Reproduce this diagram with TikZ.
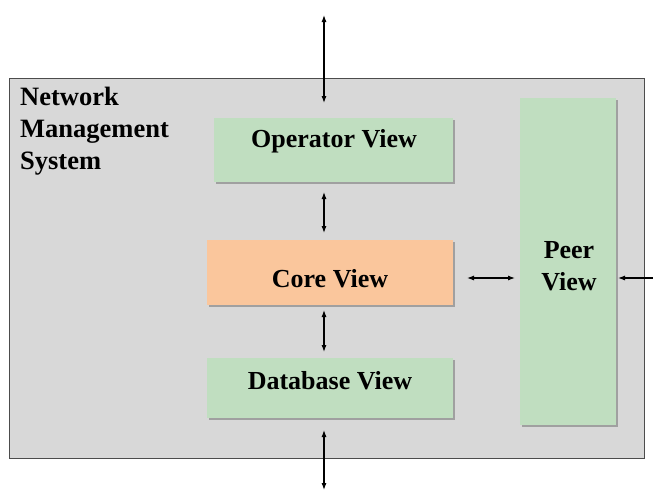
\documentclass[tikz,border=0pt]{standalone}
\usepackage{fontspec}
\setmainfont{Liberation Serif}
\usetikzlibrary{arrows.meta}
\definecolor{panelgray}{RGB}{216,216,216}
\definecolor{viewgreen}{RGB}{192,222,192}
\definecolor{vieworange}{RGB}{250,198,156}
\definecolor{edgegray}{RGB}{160,160,160}
\tikzset{
  view/.style={draw=none, inner sep=0pt, font=\fontsize{26}{32}\selectfont\bfseries,
    align=center, text=black},
  link/.style={{Latex[length=7pt,width=5pt]}-{Latex[length=7pt,width=5pt]}, line width=1.1pt},
  inlink/.style={-{Latex[length=7pt,width=5pt]}, line width=1.1pt},
}
\begin{document}
\begin{tikzpicture}[x=1pt,y=-1pt]
  \useasboundingbox (0,0) rectangle (653,493);
  % system panel
  \draw[fill=panelgray, draw=black!70, line width=0.8pt] (9,78) rectangle (644,458);
  \node[anchor=north west, align=left, font=\fontsize{26.5}{32}\selectfont\bfseries, inner sep=0pt]
    (nms) at (20,87) {Network\\Management\\System};
  % view boxes with a thin drop shadow
  \foreach \x/\y/\X/\Y/\c in {214/118/453/182/viewgreen, 207/240/453/305/vieworange,
                              207/358/453/418/viewgreen, 520/98/616/425/viewgreen}{
    \fill[edgegray] (\x+1.5,\y+1.5) rectangle (\X+1.5,\Y+1.5);
    \fill[\c] (\x,\y) rectangle (\X,\Y);
  }
  \node[view] (optext) at (334,141) {Operator View};
  \node[view] (coretext) at (330,279) {Core View};
  \node[view] (dbtext) at (330,381) {Database View};
  \node[view] (peertext) at (569,266) {Peer\\View};
  % connector ends
  \coordinate (top) at (324,15);
  \coordinate (opin) at (324,103);
  \coordinate (opout) at (324,192);
  \coordinate (corein) at (324,233);
  \coordinate (coreout) at (324,310);
  \coordinate (dbin) at (324,352);
  \coordinate (dbout) at (324,430);
  \coordinate (bottom) at (324,490);
  \coordinate (coreside) at (467,278);
  \coordinate (peerin) at (515,278);
  \coordinate (peerright) at (618,278);
  \coordinate (right) at (660,278);
  % connectors
  \draw[link] (top) -- (opin);
  \draw[link] (opout) -- (corein);
  \draw[link] (coreout) -- (dbin);
  \draw[link] (dbout) -- (bottom);
  \draw[link] (coreside) -- (peerin);
  \draw[inlink] (right) -- (peerright);
\end{tikzpicture}
\end{document}
